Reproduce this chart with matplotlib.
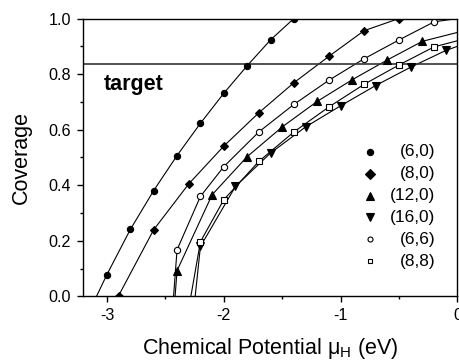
import numpy as np
import matplotlib.pyplot as plt
from matplotlib.ticker import MultipleLocator

plt.rcParams['font.family'] = ['Liberation Sans', 'DejaVu Sans']
plt.rcParams['mathtext.default'] = 'regular'

# chemical potential (eV) and coverage
x_6_0 = [-3.0, -2.8, -2.6, -2.4, -2.2, -2.0, -1.8, -1.6, -1.4]
y_6_0 = [0.079, 0.241, 0.381, 0.507, 0.623, 0.731, 0.830, 0.923, 1.0]

x_8_0 = [-2.9, -2.6, -2.3, -2.0, -1.7, -1.4, -1.1, -0.8, -0.5]
y_8_0 = [0.003, 0.240, 0.405, 0.541, 0.661, 0.769, 0.864, 0.956, 1.0]

x_12_0 = [-2.4, -2.1, -1.8, -1.5, -1.2, -0.9, -0.6, -0.3]
y_12_0 = [0.093, 0.366, 0.503, 0.610, 0.702, 0.780, 0.851, 0.918]

x_16_0 = [-2.2, -1.9, -1.6, -1.3, -1.0, -0.7, -0.4, -0.1]
y_16_0 = [0.180, 0.396, 0.516, 0.610, 0.686, 0.759, 0.825, 0.885]

x_6_6 = [-2.4, -2.2, -2.0, -1.7, -1.4, -1.1, -0.8, -0.5, -0.2]
y_6_6 = [0.168, 0.360, 0.467, 0.592, 0.691, 0.778, 0.855, 0.923, 0.988]

x_8_8 = [-2.2, -2.0, -1.7, -1.4, -1.1, -0.8, -0.5, -0.2]
y_8_8 = [0.197, 0.348, 0.486, 0.592, 0.682, 0.763, 0.833, 0.898]

# where each fitted curve meets zero coverage, and its value at mu = 0
onset = {'(6,0)': -3.09, '(8,0)': -2.9, '(12,0)': -2.417, '(16,0)': -2.245,
         '(6,6)': -2.43, '(8,8)': -2.282}
edge = {'(12,0)': 0.95, '(16,0)': 0.90, '(6,6)': 1.0, '(8,8)': 0.92}

target = 0.837

series = [
    ('(6,0)', x_6_0, y_6_0, 'o', 'k', 4.5, 4.5),
    ('(8,0)', x_8_0, y_8_0, 'D', 'k', 4.2, 4.6),
    ('(12,0)', x_12_0, y_12_0, '^', 'k', 5.5, 5.2),
    ('(16,0)', x_16_0, y_16_0, 'v', 'k', 5.5, 5.2),
    ('(6,6)', x_6_6, y_6_6, 'o', 'w', 4.5, 3.6),
    ('(8,8)', x_8_8, y_8_8, 's', 'w', 4.0, 3.4),
]

fig = plt.figure(figsize=(4.59, 3.6), dpi=100)
ax = fig.add_axes([0.1808, 0.1764, 0.8159, 0.7722])

for name, xs, ys, mk, fc, ms, lms in series:
    lx = [onset[name]] + xs
    ly = [0.0] + ys
    if name in edge:
        lx = lx + [0.0]
        ly = ly + [edge[name]]
    ax.plot(lx, ly, color='k', lw=0.8, zorder=2)
    ax.plot(xs, ys, ls='none', marker=mk, ms=ms, mfc=fc, mec='k', mew=0.8, zorder=3)

ax.axhline(target, color='#333333', lw=1.2, zorder=2)
ax.text(-3.03, 0.742, 'target', fontsize=15.5, fontweight='bold', ha='left', va='baseline')

# legend with right-aligned labels
for i, (name, xs, ys, mk, fc, ms, lms) in enumerate(series):
    yy = 0.520 - i * 0.0785
    ax.plot([0.766], [yy], transform=ax.transAxes, ls='none', marker=mk, ms=lms,
            mfc=fc, mec='k', mew=0.8, clip_on=False)
    ax.text(0.94, yy, name, transform=ax.transAxes, ha='right', va='center', fontsize=12.4)

ax.set_xlim(-3.205, 0)
ax.set_ylim(0, 1.0)
ax.xaxis.set_major_locator(MultipleLocator(1))
ax.xaxis.set_minor_locator(MultipleLocator(0.5))
ax.yaxis.set_major_locator(MultipleLocator(0.2))
ax.yaxis.set_minor_locator(MultipleLocator(0.1))
ax.set_xticks([-3, -2, -1, 0], ['-3', '-2', '-1', '0'])
ax.set_yticks([0, 0.2, 0.4, 0.6, 0.8, 1.0], ['0.0', '0.2', '0.4', '0.6', '0.8', '1.0'])
ax.tick_params(which='major', direction='out', length=4, width=1, labelsize=11.6, pad=4.5)
ax.tick_params(which='minor', direction='out', length=2.2, width=1)
for s in ax.spines.values():
    s.set_linewidth(1.0)

ax.set_xlabel('Chemical Potential μ$_H$ (eV)', fontsize=15.5, labelpad=9)
ax.set_ylabel('Coverage', fontsize=15.5, labelpad=12)

fig.savefig('out.png', dpi=100)
